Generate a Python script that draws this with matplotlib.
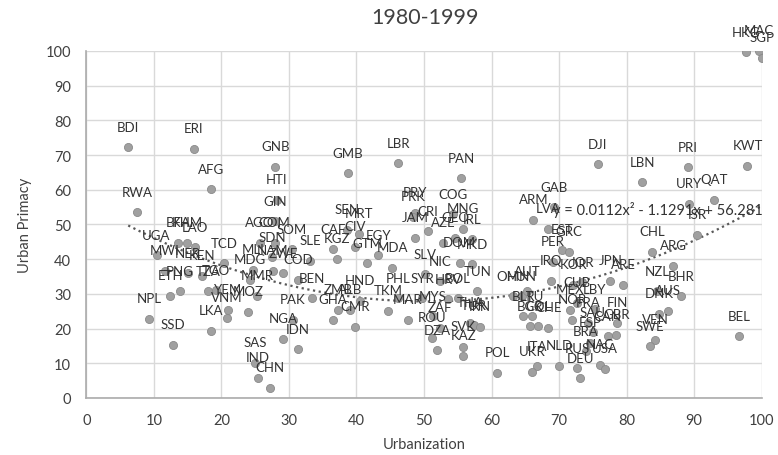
import numpy as np
import matplotlib
matplotlib.use("Agg")
import matplotlib.pyplot as plt

# country codes, urbanization (%) and urban primacy (%)
codes = ["BDI", "ERI", "GNB", "AFG", "RWA", "GMB", "LBR", "PAN", "DJI", "LBN", "PRI", "KWT", "QAT", "URY", "ISR",
         "HKG", "MAC", "SGP",
         "GAB", "ARM", "LVA", "EST", "GRC", "PER", "CHL", "ARG", "IRQ", "KOR", "JOR", "JPN", "ARE", "NZL", "BHR",
         "AUS", "DNK", "VEN", "SWE", "BEL", "FIN", "GBR", "CAN", "NAC", "USA", "RUS", "DEU", "NLD", "ITA", "UKR",
         "BRA", "ESP", "SAU", "FRA", "NOR", "MEX", "CUB", "LBY", "BLR", "LTU", "BGR", "COL", "CHE", "OMN", "HUN", "AUT",
         "PRY", "PRK", "COG", "CRI", "JAM", "AZE", "GEO", "MNG", "IRL", "DOM", "MKD", "SLV", "NIC", "TUN", "HRV",
         "BOL", "PHL", "SYR", "MAR", "MYS", "ZAF", "THA", "TUR", "IRN", "ROU", "DZA", "SVK", "KAZ", "POL", "TKM",
         "HND", "ZMB", "ALB", "GHA", "CMR", "CIV", "SEN", "MRT", "CAF", "KGZ", "EGY", "GTM", "MDA", "SLE",
         "GIN", "HTI", "AGO", "COM", "SOM", "SDN", "MLI", "NAM", "ZWE", "COD", "MDG", "MMR", "BEN", "PAK", "NGA",
         "IDN", "SAS", "IND", "CHN", "MOZ", "YEM", "VNM", "LKA", "SSD", "NPL", "ETH", "PNG", "TZA", "TGO", "UGA",
         "MWI", "NER", "KEN", "TCD", "BFA", "KHM", "LAO"]

urban = [6.2, 15.9, 28.0, 18.4, 7.5, 38.7, 46.2, 55.5, 75.7, 82.3, 89.1, 97.9, 93.0, 89.3, 90.4,
         97.7, 99.6, 100.0,
         69.3, 66.2, 68.4, 70.5, 71.5, 69.1, 83.8, 86.9, 68.8, 72.1, 73.4, 77.6, 79.5, 84.5, 88.1,
         86.1, 84.8, 84.2, 83.5, 96.6, 78.6, 78.5, 77.2, 76.1, 76.8, 72.7, 73.1, 70.0, 66.8, 66.0,
         74.0, 74.6, 75.0, 74.3, 71.9, 71.6, 72.7, 75.3, 64.7, 66.0, 65.7, 66.9, 68.4, 63.2, 64.5, 65.3,
         48.7, 48.4, 54.3, 50.6, 48.7, 52.8, 54.6, 55.8, 57.1, 55.3, 57.1, 50.1, 52.4, 57.9, 53.6,
         55.0, 46.1, 49.7, 47.6, 51.3, 52.4, 56.8, 57.4, 58.3, 51.2, 51.9, 55.8, 55.8, 60.8, 44.7,
         40.5, 37.3, 39.0, 36.5, 39.8, 39.8, 38.6, 40.4, 36.5, 37.1, 43.2, 41.6, 45.3, 33.1,
         27.9, 28.2, 25.7, 27.9, 30.4, 27.5, 24.7, 27.6, 29.1, 31.3, 24.2, 25.3, 33.4, 30.6, 29.1,
         31.3, 25.0, 25.4, 27.2, 23.9, 21.0, 20.8, 18.4, 12.8, 9.3, 12.4, 13.9, 18.0, 19.2, 10.4,
         11.6, 15.0, 17.1, 20.4, 13.6, 14.9, 16.1]

primacy = [72.2, 71.8, 66.6, 60.2, 53.5, 64.8, 67.7, 63.3, 67.4, 62.2, 66.5, 66.9, 57.1, 55.9, 47.0,
           99.6, 100.0, 98.0,
           54.9, 51.4, 48.7, 42.7, 42.2, 39.2, 42.2, 38.1, 33.8, 32.7, 33.3, 33.8, 32.6, 30.8, 29.3,
           25.1, 24.2, 16.8, 14.9, 17.8, 21.6, 18.2, 17.8, 9.6, 8.4, 8.6, 5.7, 9.3, 9.1, 7.6,
           13.5, 15.9, 19.0, 21.6, 22.6, 25.5, 27.4, 25.6, 23.6, 23.6, 20.7, 20.7, 20.3, 29.3, 29.3, 30.7,
           53.4, 52.3, 53.0, 48.1, 46.1, 44.7, 46.1, 48.8, 45.7, 38.9, 38.5, 35.6, 33.7, 30.8, 28.4,
           28.8, 28.8, 28.7, 22.6, 23.6, 20.2, 21.6, 20.9, 20.5, 17.3, 13.7, 14.7, 12.2, 7.2, 25.1,
           28.0, 25.5, 25.5, 22.6, 20.5, 43.5, 48.4, 47.4, 42.8, 40.1, 41.1, 38.8, 37.5, 39.5,
           50.9, 57.2, 44.7, 44.8, 42.8, 40.6, 37.0, 36.6, 36.0, 34.1, 34.1, 29.4, 28.8, 22.5, 17.0,
           14.1, 10.1, 5.8, 2.9, 24.8, 25.5, 23.1, 19.3, 15.4, 22.9, 29.4, 30.8, 30.8, 31.0, 41.1,
           36.6, 36.0, 35.2, 38.8, 44.8, 44.8, 43.4]

# polynomial trendline shown on the chart
trend_coef = [0.0112, -1.1291, 56.281]
trend_text = "y = 0.0112x² - 1.1291x + 56.281"

plt.rcParams['font.family'] = ['Lato', 'DejaVu Sans']

fig = plt.figure(figsize=(7.78, 4.56), dpi=100)
ax = fig.add_axes([0.111, 0.125, 0.868, 0.761])

ax.scatter(urban, primacy, s=34, color='#a0a0a0', edgecolors='#8a8a8a', linewidths=0.6, zorder=3)

for c, x, y in zip(codes, urban, primacy):
    ax.annotate(c, (x, y), xytext=(0, 14.8), textcoords='offset points',
                ha='center', va='center', fontsize=9.5, color='#333333',
                annotation_clip=False, zorder=4)

xs = np.linspace(min(urban), max(urban), 200)
ax.plot(xs, np.polyval(trend_coef, xs), linestyle=(0, (1, 1.6)), color='#595959', linewidth=1.6, zorder=2)
ax.text(69.1, 54.5, trend_text, ha='left', va='center', fontsize=10.5, color='#333333', zorder=4)

ax.set_xlim(0, 100)
ax.set_ylim(0, 100)
ax.set_xticks(range(0, 101, 10))
ax.set_yticks(range(0, 101, 10))
ax.grid(True, color='#d9d9d9', linewidth=1)
ax.set_axisbelow(True)
ax.tick_params(length=0, labelsize=10.5, colors='#404040', pad=11)
for side in ['top', 'right']:
    ax.spines[side].set_visible(False)
for side in ['left', 'bottom']:
    ax.spines[side].set_color('#ababab')
    ax.spines[side].set_linewidth(1.2)

ax.set_xlabel('Urbanization', fontsize=10.5, color='#404040', labelpad=7)
ax.set_ylabel('Urban Primacy', fontsize=10.5, color='#404040', labelpad=10)
fig.text(0.546, 0.96, '1980-1999', ha='center', va='center', fontsize=15.5, color='#404040')

fig.savefig('out.png', dpi=100)
